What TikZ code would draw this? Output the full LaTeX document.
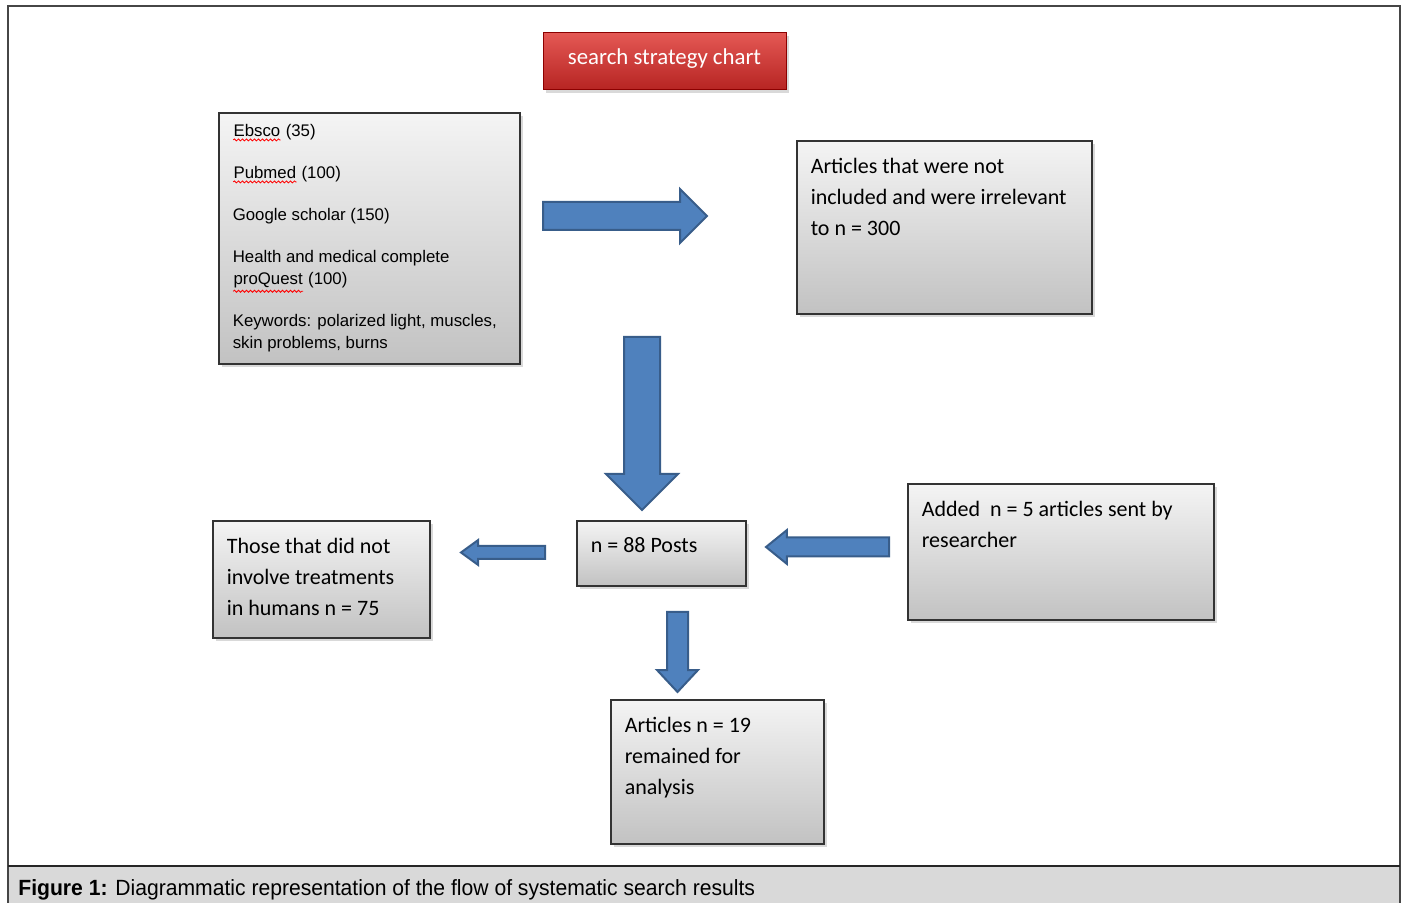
\documentclass[tikz,border=0pt]{standalone}
\usepackage{fontspec}
\setmainfont{Carlito}
\newfontfamily\arialfont{Liberation Sans}
\newfontfamily\captionfont[FakeStretch=0.96]{Liberation Sans}
\usetikzlibrary{shapes.arrows,shadows,positioning,decorations.pathmorphing}

\definecolor{arrowfill}{RGB}{79,129,189}
\definecolor{arrowline}{RGB}{56,93,138}
\definecolor{boxtop}{RGB}{244,244,244}
\definecolor{boxbottom}{RGB}{194,194,194}
\definecolor{titletop}{RGB}{228,88,84}
\definecolor{titlebottom}{RGB}{182,36,34}
\definecolor{captiongray}{RGB}{217,217,217}
\definecolor{framegray}{RGB}{70,70,70}

\newcommand{\spellmark}[1]{\tikz[baseline=(word.base)]{\node[inner sep=0pt] (word) {#1};
  \draw[red, line width=0.4pt, decorate, decoration={snake, amplitude=0.5pt, segment length=2pt}]
    ([yshift=-1.2pt]word.south west) -- ([yshift=-1.2pt]word.south east);}}
\newcommand{\toptext}[3]{\parbox[t][#2][t]{#1}{#3}}

\tikzset{
  flowbox/.style={draw=black!80, line width=0.8pt, top color=boxtop, bottom color=boxbottom,
    anchor=north west, inner xsep=7pt, inner ysep=8.5pt,
    drop shadow={opacity=0.3, shadow xshift=1.5pt, shadow yshift=-1.5pt},
    font=\fontsize{11pt}{15.5pt}\selectfont},
  titlebox/.style={draw=red!55!black, line width=0.5pt, top color=titletop, bottom color=titlebottom,
    minimum width=121.5pt, minimum height=28.5pt, text=white,
    drop shadow={opacity=0.3, shadow xshift=1.5pt, shadow yshift=-1.5pt},
    font=\fontsize{11.4pt}{13pt}\selectfont},
  barrow/.style={single arrow, draw=arrowline, fill=arrowfill, line width=1pt,
    inner xsep=0pt, anchor=tail}
}

\begin{document}
\begin{tikzpicture}[x=0.5pt, y=-0.5pt]
  \useasboundingbox (0,0) rectangle (1405,903);
  \fill[captiongray] (8,866) rectangle (1400,903);
  \draw[framegray, line width=1pt] (8,903) -- (8,6) -- (1400,6) -- (1400,903);
  \draw[black!85, line width=0.8pt] (8,866) -- (1400,866);

  \node[titlebox] (title) at (664.5,61.5) {\raisebox{5pt}{search strategy chart}};

  \node[flowbox, inner ysep=6pt, font=\arialfont\fontsize{8.4pt}{11pt}\selectfont] (sources) at (218,112)
    {\toptext{136.5pt}{113.5pt}{\spellmark{Ebsco} (35)\\[10pt]
     \spellmark{Pubmed} (100)\\[10pt]
     Google scholar (150)\\[10pt]
     Health and medical complete\\
     \spellmark{proQuest} (100)\\[10pt]
     Keywords: polarized light, muscles,\\
     skin problems, burns}};
  \node[flowbox] (excluded) at (796,140)
    {\toptext{133.5pt}{69.5pt}{Articles that were not\\ included and were irrelevant\\ to n = 300}};
  \node[flowbox] (posts) at (576,520)
    {\toptext{70.5pt}{15.5pt}{n = 88 Posts}};
  \node[flowbox] (nothuman) at (212,520)
    {\toptext{94.5pt}{41.5pt}{Those that did not\\ involve treatments\\ in humans n = 75}};
  \node[flowbox] (added) at (907,483)
    {\toptext{139pt}{51pt}{Added\ \ n = 5 articles sent by\\ researcher}};
  \node[flowbox] (final) at (610,699)
    {\toptext{92.5pt}{55pt}{Articles n = 19\\ remained for\\ analysis}};

  \node[barrow, inner ysep=6.5pt, single arrow head extend=6.5pt, single arrow tip angle=90,
    minimum height=82pt] (toexcluded) at (542,216) {};
  \node[barrow, rotate=-90, inner ysep=8.5pt, single arrow head extend=9pt, single arrow tip angle=90,
    minimum height=86.5pt] (toposts) at (642,336) {};
  \node[barrow, rotate=180, inner ysep=2.75pt, single arrow head extend=3pt, single arrow tip angle=72,
    minimum height=42pt] (tonothuman) at (546,552.5) {};
  \node[barrow, rotate=180, inner ysep=4.25pt, single arrow head extend=3.75pt, single arrow tip angle=78,
    minimum height=61.5pt] (fromadded) at (890,547) {};
  \node[barrow, rotate=-90, inner ysep=4.75pt, single arrow head extend=5pt, single arrow tip angle=86,
    minimum height=40pt] (tofinal) at (677.5,611) {};

  \node[anchor=base west, inner sep=0pt, font=\captionfont\fontsize{11pt}{13pt}\selectfont] (caption) at (18,896)
    {\textbf{Figure 1:} Diagrammatic representation of the flow of systematic search results};
\end{tikzpicture}
\end{document}
